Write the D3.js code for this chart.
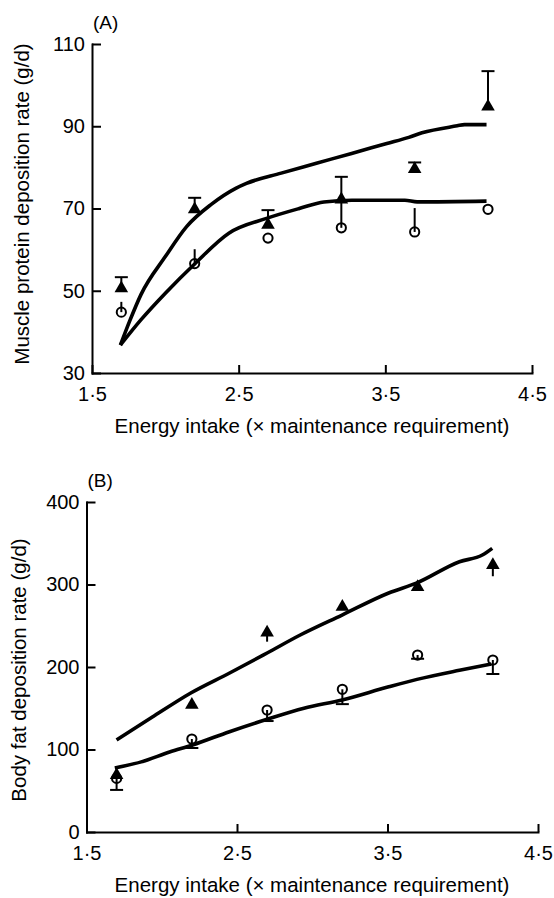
<!DOCTYPE html>
<html>
<head>
<meta charset="utf-8">
<script src="https://cdn.jsdelivr.net/npm/d3@7"></script>
<style>
html,body{margin:0;padding:0;background:#fff;}
svg{display:block;}
text{font-family:"Liberation Sans",Arial,Helvetica,sans-serif;fill:#000;}
</style>
</head>
<body>
<svg id="chart" width="554" height="898"></svg>
<script>
// ---- Data ----
const energyIntake = [1.7, 2.2, 2.7, 3.2, 3.7, 4.2];
const xTicks = [1.5, 2.5, 3.5, 4.5];

// Panel A: muscle protein deposition (g/d)
const proteinTicks = [30, 50, 70, 90, 110];
const proteinTriangle = [50.6, 69.8, 66.0, 72.2, 79.6, 94.8];
const proteinTriangleUpper = [53.3, 72.6, 69.6, 77.7, 81.2, 103.4];
const proteinCircle = [44.8, 56.6, 62.8, 65.3, 64.3, 69.8];
const proteinCircleUpper = [47.3, 60.1, 62.8, 72.0, 70.1, 69.8];
const proteinModelHighX = [1.694, 1.76, 1.833, 2.0, 2.145, 2.313, 2.48, 2.553, 2.79, 3.03, 3.27, 3.51, 3.66, 3.75, 3.99, 4.04, 4.19];
const proteinModelHighY = [36.8, 42.9, 49.0, 58.3, 65.6, 71.0, 74.9, 76.1, 78.6, 81.0, 83.4, 85.8, 87.3, 88.4, 90.1, 90.4, 90.4];
const proteinModelLowX = [1.694, 1.833, 2.0, 2.205, 2.433, 2.69, 2.913, 3.081, 3.273, 3.633, 3.717, 4.19];
const proteinModelLowY = [36.8, 42.9, 49.4, 56.7, 64.0, 67.6, 70.0, 71.6, 72.0, 72.0, 71.6, 71.8];

// Panel B: body fat deposition (g/d)
const fatTicks = [0, 100, 200, 300, 400];
const fatTriangle = [69, 154, 241.6, 273, 297, 323.6];
const fatTriangleLower = [69, 154, 230.7, 273, 297, 310];
const fatCircle = [65, 112.7, 147.9, 173, 214.5, 208.5];
const fatCircleLower = [51, 101.8, 134.5, 155, 210, 191.5];
const fatModelHighX = [1.70, 1.935, 2.193, 2.451, 2.70, 2.92, 3.198, 3.508, 3.696, 3.978, 4.13, 4.196];
const fatModelHighY = [111.5, 139, 168.5, 192.7, 217, 238.8, 263, 289.7, 302, 327.6, 335.7, 343.8];
const fatModelLowX = [1.688, 1.864, 2.052, 2.205, 2.45, 2.70, 2.945, 3.198, 3.508, 3.696, 3.978, 4.19];
const fatModelLowY = [77.6, 85, 97, 105.5, 121.6, 136.6, 150, 160, 176, 185, 196, 203.6];

const xLabel = "Energy intake (\u00d7 maintenance requirement)";

// ---- Drawing ----
const svg = d3.select("#chart");
const fmtX = d => d3.format(".1f")(d).replace(".", "\u00b7");

function panel(cfg) {
  const g = svg.append("g");
  const x = d3.scaleLinear().domain([1.5, 4.5]).range(cfg.xRange);
  const y = d3.scaleLinear().domain(cfg.yDomain).range(cfg.yRange);

  // model curves
  const line = d3.line().x(d => x(d[0])).y(d => y(d[1])).curve(d3.curveMonotoneX);
  cfg.curves.forEach(c => {
    g.append("path")
      .datum(d3.zip(c[0], c[1]))
      .attr("d", line)
      .attr("fill", "none")
      .attr("stroke", "#000")
      .attr("stroke-width", 3.6)
      .attr("stroke-linejoin", "round")
      .attr("stroke-linecap", "butt");
  });

  // error bars
  cfg.errors.forEach(e => {
    energyIntake.forEach((xv, i) => {
      const v = e.values[i], b = e.bound[i];
      if (Math.abs(v - b) < 0.01) return;
      g.append("line")
        .attr("x1", x(xv)).attr("x2", x(xv))
        .attr("y1", y(v)).attr("y2", y(b))
        .attr("stroke", "#000").attr("stroke-width", 2);
      if (e.cap) {
        g.append("line")
          .attr("x1", x(xv) - 6.5).attr("x2", x(xv) + 6.5)
          .attr("y1", y(b)).attr("y2", y(b))
          .attr("stroke", "#000").attr("stroke-width", 2);
      }
    });
  });

  // circles
  g.selectAll(null).data(d3.zip(energyIntake, cfg.circles)).join("circle")
    .attr("cx", d => x(d[0])).attr("cy", d => y(d[1])).attr("r", 4.6)
    .attr("fill", "none").attr("stroke", "#000").attr("stroke-width", 2);

  // triangles
  const tri = d3.symbol().type(d3.symbolTriangle).size(80);
  g.selectAll(null).data(d3.zip(energyIntake, cfg.triangles)).join("path")
    .attr("d", tri)
    .attr("transform", d => `translate(${x(d[0])},${y(d[1])})`)
    .attr("fill", "#000");

  // axes
  const xAxis = d3.axisBottom(x).tickValues(xTicks).tickFormat(fmtX)
    .tickSize(-8).tickSizeOuter(0).tickPadding(14);
  const yAxis = d3.axisLeft(y).tickValues(cfg.yTicks).tickFormat(d3.format("d"))
    .tickSize(-9).tickSizeOuter(0).tickPadding(7);

  const gx = g.append("g").attr("transform", `translate(0,${cfg.yRange[0]})`).call(xAxis);
  const gy = g.append("g").attr("transform", `translate(${cfg.xRange[0]},0)`).call(yAxis);
  [gx, gy].forEach(a => {
    a.select(".domain").attr("stroke", "#000").attr("stroke-width", 2).attr("stroke-linecap", "square");
    a.selectAll(".tick line").attr("stroke", "#000").attr("stroke-width", 2);
    a.selectAll(".tick text").attr("font-size", 20).attr("fill", "#000")
      .attr("font-family", '"Liberation Sans", Arial, sans-serif');
  });
  gx.selectAll(".tick text").attr("dy", "0.71em");

  // panel letter
  g.append("text").attr("x", cfg.xRange[0] + 1).attr("y", cfg.letterY)
    .attr("font-size", 19).text(cfg.letter);

  // axis titles
  g.append("text").attr("x", 312).attr("y", cfg.xTitleY)
    .attr("text-anchor", "middle").attr("font-size", 20.5).text(xLabel);
  g.append("text")
    .attr("transform", `translate(${cfg.yTitleX},${cfg.yTitleCY}) rotate(-90)`)
    .attr("text-anchor", "middle").attr("font-size", 20.5).text(cfg.yLabel);
}

panel({
  letter: "(A)", letterY: 29,
  xRange: [92, 532], yRange: [373, 44], yDomain: [30, 110], yTicks: proteinTicks,
  curves: [[proteinModelHighX, proteinModelHighY], [proteinModelLowX, proteinModelLowY]],
  errors: [
    {values: proteinCircle, bound: proteinCircleUpper, cap: false},
    {values: proteinTriangle, bound: proteinTriangleUpper, cap: true}
  ],
  circles: proteinCircle, triangles: proteinTriangle,
  xTitleY: 433, yTitleX: 29, yTitleCY: 204,
  yLabel: "Muscle protein deposition rate (g/d)"
});

panel({
  letter: "(B)", letterY: 487,
  xRange: [86.5, 538], yRange: [832, 502], yDomain: [0, 400], yTicks: fatTicks,
  curves: [[fatModelHighX, fatModelHighY], [fatModelLowX, fatModelLowY]],
  errors: [
    {values: fatCircle, bound: fatCircleLower, cap: true},
    {values: fatTriangle, bound: fatTriangleLower, cap: false}
  ],
  circles: fatCircle, triangles: fatTriangle,
  xTitleY: 892, yTitleX: 26, yTitleCY: 670,
  yLabel: "Body fat deposition rate (g/d)"
});
</script>
</body>
</html>
